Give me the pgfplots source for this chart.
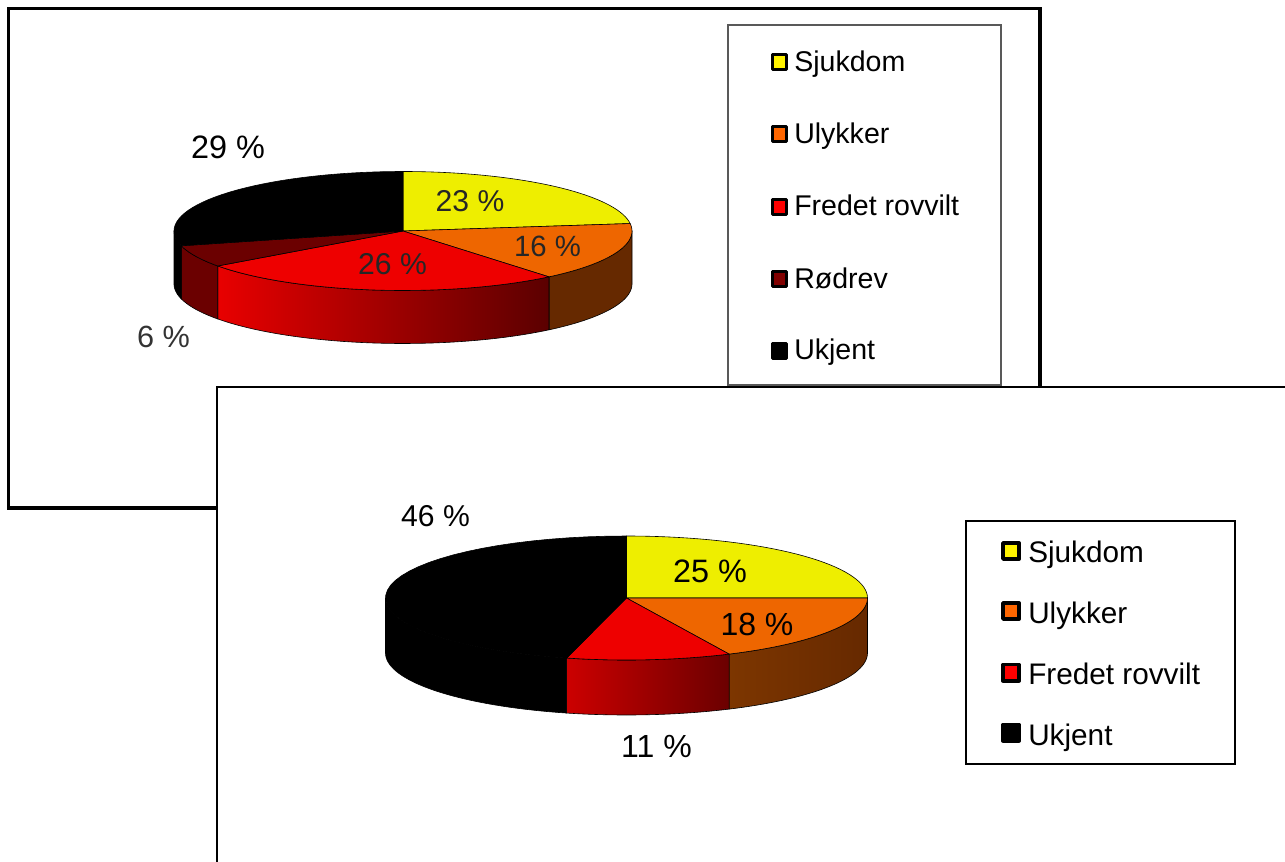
\documentclass[border=0pt]{standalone}
\usepackage{fontspec}
\setmainfont{Liberation Sans}
\usepackage{pgfplots}
\pgfplotsset{compat=1.18}

\definecolor{topYellow}{HTML}{EEEE00}
\definecolor{topOrange}{HTML}{EE6600}
\definecolor{topRed}{HTML}{EE0000}
\definecolor{topDark}{HTML}{6B0000}
\definecolor{wallOrange}{HTML}{662900}
\definecolor{keyDark}{HTML}{800000}
\definecolor{keyOrange}{HTML}{FF6600}

% Geometry of the current pie, in pixels: centre, radii, wall depth
\newcommand\setpie[5]{\gdef\cx{#1}\gdef\cy{#2}\gdef\rx{#3}\gdef\ry{#4}\gdef\depth{#5}\gdef\cum{0}}

% Append an elliptical arc from angle #2 to angle #3 at vertical offset #1
\newcommand\addarc[3]{%
  \foreach \i in {0,...,36}{%
    \pgfmathsetmacro\t{#2+(#3-#2)*\i/36}%
    \pgfmathsetmacro\px{\cx+\rx*cos(\t)}%
    \pgfmathsetmacro\py{\cy+#1-\ry*sin(\t)}%
    \xdef\pts{\pts (\px,\py)}%
  }}

% One slice: share in percent, top colour, style of the visible wall
\newcommand\pieslice[3]{%
  \pgfmathsetmacro\s{90-3.6*\cum}%
  \pgfmathsetmacro\e{90-3.6*(\cum+#1)}%
  \pgfmathsetmacro\lo{max(\e,-180)}%
  \pgfmathsetmacro\hi{min(\s,0)}%
  \ifdim\hi pt>\lo pt\relax
    \gdef\pts{}%
    \addarc{0}{\lo}{\hi}%
    \addarc{\depth}{\hi}{\lo}%
    \edef\cmd{\noexpand\addplot[#3,draw=black,line width=0.45pt,line join=round,forget plot]
      coordinates {\pts} -- cycle;}\cmd
  \fi
  \xdef\pts{(\cx,\cy)}%
  \addarc{0}{\s}{\e}%
  \edef\cmd{\noexpand\addplot[fill=#2,draw=black,line width=0.45pt,line join=round,forget plot]
    coordinates {\pts} -- cycle;}\cmd
  \pgfmathsetmacro\next{\cum+#1}%
  \xdef\cum{\next}%
}

% Legend entry: key x, text x, key half-size, font size, key colour, key y, baseline y, text
\newcommand\legkey[8]{%
  \addplot[only marks,mark=square*,mark size=#3,
    mark options={draw=black,fill=#5,line width=2.5pt,line join=round},forget plot]
    coordinates {(#1,#6)};
  \node[anchor=base west,inner sep=0pt] at (axis cs:#2,#7) {\fontsize{#4}{#4}\selectfont #8};
}
\newcommand\pctlabel[5]{\node[anchor=base,inner sep=0pt,text=#4] at (axis cs:#1,#2)
  {\fontsize{#3}{#3}\selectfont #5};}

\begin{document}
\begin{tikzpicture}
\useasboundingbox (0,0) rectangle (963.75pt,646.5pt);
\begin{axis}[
  at={(0,0)},anchor=south west,
  scale only axis,width=963.75pt,height=646.5pt,
  xmin=0,xmax=1285,ymin=0,ymax=862,y dir=reverse,
  hide axis,clip mode=global]

% First panel
\addplot[fill=white,draw=black,line width=2.6pt,forget plot]
  coordinates {(8.5,8.5) (1040,8.5) (1040,508) (8.5,508)} -- cycle;

\setpie{403}{231}{229}{59.5}{53}
\pieslice{23}{topYellow}{fill=topYellow}
\pieslice{16}{topOrange}{fill=wallOrange}
\pieslice{26}{topRed}{left color=red!91!black,right color=topDark!85!black}
\pieslice{6}{topDark}{fill=topDark}
\pieslice{29}{black}{fill=black}

\pctlabel{228}{159}{24.3}{black}{29 \%}
\pctlabel{470}{212}{22.6}{black!85}{23 \%}
\pctlabel{547.5}{257}{22}{black!85}{16 \%}
\pctlabel{392.5}{275}{22.6}{black!85}{26 \%}
\pctlabel{163.5}{348}{23}{black!80}{6 \%}

\addplot[fill=white,draw=black!65,line width=0.9pt,forget plot]
  coordinates {(728,25) (1001,25) (1001,385) (728,385)} -- cycle;
\legkey{779.5}{794}{5.4pt}{21.4}{yellow}{62}{72}{Sjukdom}
\legkey{779.5}{794}{5.4pt}{21.4}{keyOrange}{134}{144}{Ulykker}
\legkey{779.5}{794}{5.4pt}{21.4}{red}{207}{216}{Fredet rovvilt}
\legkey{779.5}{794}{5.4pt}{21.4}{keyDark}{279}{288.5}{Rødrev}
\legkey{779.5}{794}{5.4pt}{21.4}{black}{351}{360}{Ukjent}

% Second panel, lying over the first
\addplot[fill=white,draw=black,line width=1.5pt,forget plot]
  coordinates {(217,387) (1320,387) (1320,900) (217,900)} -- cycle;

\setpie{626.5}{598}{241}{62}{55}
\pieslice{25}{topYellow}{fill=topYellow}
\pieslice{18}{topOrange}{left color=wallOrange!85!orange,right color=wallOrange}
\pieslice{11}{topRed}{left color=red!80!black,right color=topDark}
\pieslice{46}{black}{fill=black}

\pctlabel{435.5}{527}{22.6}{black}{46 \%}
\pctlabel{710}{582}{24.3}{black}{25 \%}
\pctlabel{757}{635.5}{24}{black}{18 \%}
\pctlabel{656.5}{757}{24}{black}{11 \%}

\addplot[fill=white,draw=black,line width=1.3pt,forget plot]
  coordinates {(966,521) (1235,521) (1235,764) (966,764)} -- cycle;
\legkey{1011}{1028}{6.1pt}{22.3}{yellow}{551}{562}{Sjukdom}
\legkey{1011}{1028}{6.1pt}{22.3}{keyOrange}{611}{623}{Ulykker}
\legkey{1011}{1028}{6.1pt}{22.3}{red}{672.7}{684.5}{Fredet rovvilt}
\legkey{1011}{1028}{6.1pt}{22.3}{black}{732.7}{745.5}{Ukjent}
\end{axis}
\end{tikzpicture}
\end{document}
